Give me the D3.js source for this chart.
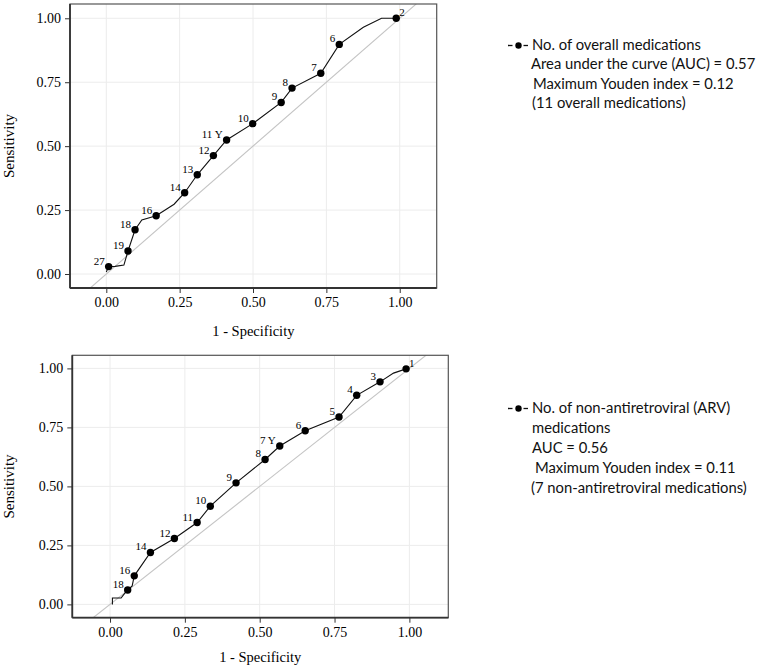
<!DOCTYPE html>
<html>
<head>
<meta charset="utf-8">
<script src="https://cdn.jsdelivr.net/npm/d3@7"></script>
<style>
  html, body { margin: 0; padding: 0; background: #fff; }
  svg { display: block; }
</style>
</head>
<body>
<svg id="chart" width="762" height="671"></svg>
<script>
// ---------- DATA ----------
// Panel 1: No. of overall medications (ROC vertices; label '' = plain vertex)
const overallFPR   = [0.000, 0.008, 0.030, 0.060, 0.074, 0.098, 0.121, 0.170, 0.231, 0.267, 0.310, 0.365, 0.410, 0.499, 0.596, 0.633, 0.731, 0.794, 0.876, 0.938, 0.988];
const overallTPR   = [0.008, 0.029, 0.030, 0.035, 0.090, 0.173, 0.211, 0.228, 0.273, 0.318, 0.388, 0.463, 0.524, 0.588, 0.671, 0.727, 0.785, 0.898, 0.965, 1.000, 1.000];
const overallLabel = ['', '27', '', '', '19', '18', '', '16', '', '14', '13', '12', '11 Y', '10', '9', '8', '7', '6', '', '', '2'];
const overallLegend = ["No. of overall medications", "Area under the curve (AUC) = 0.57", "Maximum Youden index = 0.12", "(11 overall medications)"];

// Panel 2: No. of non-antiretroviral medications
const nonArvFPR   = [0.008, 0.008, 0.037, 0.045, 0.059, 0.074, 0.081, 0.135, 0.215, 0.291, 0.335, 0.421, 0.518, 0.567, 0.652, 0.765, 0.824, 0.902, 0.947, 0.989];
const nonArvTPR   = [0.000, 0.027, 0.027, 0.040, 0.061, 0.078, 0.121, 0.220, 0.279, 0.347, 0.416, 0.515, 0.614, 0.671, 0.736, 0.794, 0.886, 0.943, 0.980, 0.998];
const nonArvLabel = ['', '', '', '', '18', '', '16', '14', '12', '11', '10', '9', '8', '7 Y', '6', '5', '4', '3', '', '1'];
const nonArvLegend = ["No. of non-antiretroviral (ARV)", "medications", "AUC = 0.56", "Maximum Youden index = 0.11", "(7 non-antiretroviral medications)"];

const tickValues = [0, 0.25, 0.5, 0.75, 1];
const tickLabels = ["0.00", "0.25", "0.50", "0.75", "1.00"];
const xTitle = "1 - Specificity";
const yTitle = "Sensitivity";

// ---------- DRAW ----------
const svg = d3.select("#chart");
const serif = "'Liberation Serif', 'Times New Roman', serif";
const sans = "Lato, 'Open Sans', sans-serif";

function panel(cfg) {
  const x = d3.scaleLinear().domain(cfg.xDomain).range([cfg.left, cfg.right]);
  const y = d3.scaleLinear().domain(cfg.yDomain).range([cfg.bottom, cfg.top]);
  const g = svg.append("g");
  const clipId = "clip" + cfg.id;
  svg.append("clipPath").attr("id", clipId).append("rect")
    .attr("x", cfg.left).attr("y", cfg.top)
    .attr("width", cfg.right - cfg.left).attr("height", cfg.bottom - cfg.top);

  // grid
  g.selectAll(".gx").data(tickValues).join("line")
    .attr("x1", d => x(d)).attr("x2", d => x(d))
    .attr("y1", cfg.top).attr("y2", cfg.bottom)
    .attr("stroke", "#ececec").attr("stroke-width", 1);
  g.selectAll(".gy").data(tickValues).join("line")
    .attr("y1", d => y(d)).attr("y2", d => y(d))
    .attr("x1", cfg.left).attr("x2", cfg.right)
    .attr("stroke", "#ececec").attr("stroke-width", 1);

  // diagonal reference
  const cg = g.append("g").attr("clip-path", `url(#${clipId})`);
  cg.append("line")
    .attr("x1", x(-0.2)).attr("y1", y(-0.2))
    .attr("x2", x(1.2)).attr("y2", y(1.2))
    .attr("stroke", "#c4c4c4").attr("stroke-width", 1.1);

  // curve
  const pts = cfg.fpr.map((d, i) => ({ fx: d, ty: cfg.tpr[i], lab: cfg.labels[i], i }));
  cg.append("path").datum(pts)
    .attr("d", d3.line().x(d => x(d.fx)).y(d => y(d.ty)))
    .attr("fill", "none").attr("stroke", "#111").attr("stroke-width", 1.1);

  const marked = pts.filter(d => d.lab !== '');
  cg.selectAll("circle").data(marked).join("circle")
    .attr("cx", d => x(d.fx)).attr("cy", d => y(d.ty)).attr("r", 3.7)
    .attr("fill", "#000");
  const lastIdx = pts.length - 1;
  cg.selectAll("text.pl").data(marked).join("text")
    .attr("class", "pl")
    .attr("x", d => d.i === lastIdx ? x(d.fx) + 3 : x(d.fx) - 4)
    .attr("y", d => y(d.ty) - 2)
    .attr("text-anchor", d => d.i === lastIdx ? "start" : "end")
    .attr("font-family", serif).attr("font-size", 11).attr("fill", "#000")
    .text(d => d.lab);

  // border
  g.append("rect").attr("x", cfg.left).attr("y", cfg.top)
    .attr("width", cfg.right - cfg.left).attr("height", cfg.bottom - cfg.top)
    .attr("fill", "none").attr("stroke", "#555").attr("stroke-width", 1.2);

  // axes
  const fmt = d => tickLabels[tickValues.indexOf(d)];
  const xa = g.append("g").attr("transform", `translate(0,${cfg.bottom})`)
    .call(d3.axisBottom(x).tickValues(tickValues).tickFormat(fmt).tickSize(5).tickPadding(4));
  const ya = g.append("g").attr("transform", `translate(${cfg.left},0)`)
    .call(d3.axisLeft(y).tickValues(tickValues).tickFormat(fmt).tickSize(5).tickPadding(4));
  [xa, ya].forEach(a => {
    a.select(".domain").attr("stroke", "#333").attr("stroke-width", 1.8);
    a.selectAll(".tick line").attr("stroke", "#333").attr("stroke-width", 1);
    a.selectAll(".tick text").attr("font-family", serif).attr("font-size", 14).attr("fill", "#000");
  });
  ya.select(".domain").attr("d", `M0,${cfg.bottom}V${cfg.top}`);
  xa.select(".domain").attr("d", `M${cfg.left},0H${cfg.right}`);

  // titles
  svg.append("text").attr("x", (cfg.left + cfg.right) / 2).attr("y", cfg.xTitleY)
    .attr("text-anchor", "middle").attr("font-family", serif).attr("font-size", 14.5)
    .attr("fill", "#000").text(xTitle);
  svg.append("text")
    .attr("transform", `translate(${cfg.yTitleX},${(cfg.top + cfg.bottom) / 2}) rotate(-90)`)
    .attr("text-anchor", "middle").attr("font-family", serif).attr("font-size", 15)
    .attr("fill", "#000").text(yTitle);

  // legend
  const lg = svg.append("g");
  const ly = cfg.legendY;
  lg.append("line").attr("x1", 508).attr("x2", 512.5).attr("y1", ly - 4.5).attr("y2", ly - 4.5)
    .attr("stroke", "#111").attr("stroke-width", 1.3);
  lg.append("circle").attr("cx", 518.5).attr("cy", ly - 4.5).attr("r", 3.2).attr("fill", "#000");
  lg.append("line").attr("x1", 523.5).attr("x2", 528).attr("y1", ly - 4.5).attr("y2", ly - 4.5)
    .attr("stroke", "#111").attr("stroke-width", 1.3);
  lg.selectAll("text").data(cfg.legend).join("text")
    .attr("x", (d, i) => cfg.legendX[i])
    .attr("y", (d, i) => ly + i * cfg.legendStep)
    .attr("font-family", sans).attr("font-size", 14.8).attr("fill", "#111")
    .text(d => d);
}

panel({
  id: 1, left: 70, right: 436.7, top: 4, bottom: 288,
  xDomain: [-0.1237, 1.126], yDomain: [-0.0547, 1.0559],
  fpr: overallFPR, tpr: overallTPR, labels: overallLabel,
  xTitleY: 336, yTitleX: 14,
  legend: overallLegend, legendY: 50, legendStep: 19.3,
  legendX: [532, 531, 533, 532]
});

panel({
  id: 2, left: 72.3, right: 448.3, top: 355.3, bottom: 617.7,
  xDomain: [-0.126, 1.130], yDomain: [-0.0564, 1.0555],
  fpr: nonArvFPR, tpr: nonArvTPR, labels: nonArvLabel,
  xTitleY: 662, yTitleX: 14,
  legend: nonArvLegend, legendY: 413, legendStep: 20,
  legendX: [532, 532, 532, 535, 531]
});
</script>
</body>
</html>
